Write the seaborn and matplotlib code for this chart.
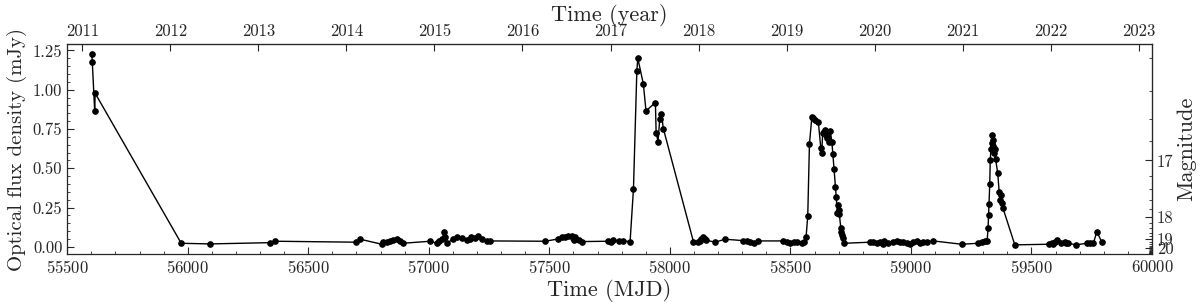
import numpy as np
import pandas as pd
import matplotlib
matplotlib.use("Agg")
import matplotlib.pyplot as plt
import seaborn as sns
from matplotlib.ticker import AutoMinorLocator, MultipleLocator, FixedLocator, FormatStrFormatter

# Light curve values
mjd = [55602, 55604, 55614, 55616, 55973, 56093, 56342, 56364, 56697, 56715,
       56805, 56808, 56826, 56840, 56853, 56867, 56881, 56891,
       57006, 57033, 57044, 57054, 57064, 57066, 57075, 57102, 57116, 57137,
       57158, 57171, 57175, 57192, 57206, 57220, 57241, 57252,
       57483, 57538, 57552, 57565, 57579, 57593, 57600, 57604, 57607, 57621, 57635,
       57745, 57755, 57766, 57787, 57807, 57835,
       57849, 57863, 57867, 57890, 57901, 57940, 57943, 57951, 57958, 57965, 57973,
       58098, 58118, 58123, 58128, 58139, 58145, 58149, 58188, 58229,
       58305, 58319, 58333, 58347, 58365, 58471, 58485, 58499, 58513, 58527, 58547, 58557,
       58565, 58572, 58579, 58589, 58595, 58602, 58616, 58626, 58630, 58634, 58639,
       58643, 58647, 58651, 58658, 58662, 58665, 58672, 58676, 58681, 58687, 58690,
       58695, 58697, 58701, 58703, 58709, 58710, 58713, 58717, 58722,
       58831, 58844, 58858, 58872, 58883, 58888, 58906, 58927, 58941, 58955, 58966,
       58982, 58996, 59010, 59024, 59038, 59051, 59065, 59093, 59210, 59279, 59293,
       59307, 59316,
       59320, 59322, 59324, 59327, 59329, 59332, 59335, 59337, 59339, 59341, 59344,
       59347, 59351, 59360, 59366, 59369, 59372, 59376, 59381,
       59431, 59574, 59584, 59590, 59598, 59605, 59622, 59639, 59645, 59653, 59685,
       59729, 59743, 59757, 59771, 59792]
flux = [1.225, 1.178, 0.867, 0.977, 0.023, 0.019, 0.027, 0.036, 0.030, 0.049,
        0.017, 0.030, 0.030, 0.036, 0.044, 0.051, 0.040, 0.023,
        0.036, 0.023, 0.036, 0.049, 0.093, 0.062, 0.023, 0.051, 0.066, 0.055,
        0.041, 0.051, 0.062, 0.055, 0.070, 0.049, 0.038, 0.038,
        0.036, 0.051, 0.062, 0.066, 0.070, 0.070, 0.055, 0.044, 0.066, 0.044, 0.034,
        0.036, 0.034, 0.044, 0.036, 0.038, 0.034,
        0.369, 1.119, 1.200, 1.036, 0.865, 0.918, 0.727, 0.670, 0.814, 0.848, 0.752,
        0.032, 0.032, 0.040, 0.049, 0.066, 0.050, 0.043, 0.030, 0.049,
        0.040, 0.038, 0.034, 0.027, 0.038, 0.038, 0.030, 0.023, 0.030, 0.032, 0.023, 0.030,
        0.062, 0.197, 0.655, 0.825, 0.818, 0.807, 0.793, 0.631, 0.596, 0.727, 0.733,
        0.744, 0.712, 0.691, 0.733, 0.670, 0.740, 0.670, 0.589, 0.496, 0.380, 0.320,
        0.214, 0.267, 0.235, 0.208, 0.123, 0.097, 0.076, 0.055, 0.023,
        0.030, 0.030, 0.023, 0.032, 0.019, 0.036, 0.023, 0.030, 0.036, 0.030, 0.032,
        0.023, 0.019, 0.030, 0.036, 0.023, 0.030, 0.032, 0.038, 0.017, 0.023, 0.030,
        0.036, 0.036,
        0.12, 0.20, 0.27, 0.40, 0.55, 0.62, 0.66, 0.71, 0.68, 0.64, 0.60,
        0.62, 0.56, 0.47, 0.35, 0.30, 0.33, 0.28, 0.25,
        0.013, 0.017, 0.023, 0.020, 0.030, 0.044, 0.023, 0.030, 0.028, 0.023, 0.013,
        0.023, 0.023, 0.023, 0.097, 0.030]

mag_ticks = [17, 18, 19, 20]
ZP = 16.4  # AB zero point for flux in mJy

df = pd.DataFrame({"MJD": mjd, "flux": flux})

sns.set_style("ticks")
plt.rcParams["font.family"] = ["cmr10", "DejaVu Serif"]
plt.rcParams["mathtext.fontset"] = "cm"
plt.rcParams["axes.formatter.use_mathtext"] = True
plt.rcParams["xtick.direction"] = "in"
plt.rcParams["ytick.direction"] = "in"

fig = plt.figure(figsize=(12, 3.06), dpi=100)
ax = fig.add_axes([0.056, 0.17, 0.904, 0.686])
sns.lineplot(data=df, x="MJD", y="flux", ax=ax, color="k", marker="o",
             markersize=4, markeredgecolor="k", linewidth=1,
             estimator=None, sort=False)

ax.set_xlim(55500, 60000)
ax.set_ylim(-0.045, 1.29)
ax.xaxis.set_major_locator(MultipleLocator(500))
ax.xaxis.set_minor_locator(AutoMinorLocator(5))
ax.yaxis.set_major_locator(MultipleLocator(0.25))
ax.yaxis.set_minor_locator(AutoMinorLocator(5))
ax.yaxis.set_major_formatter(FormatStrFormatter("%.2f"))
ax.tick_params(which="major", length=5, labelsize=12)
ax.tick_params(which="minor", length=2.5)
ax.set_xlabel("Time (MJD)", fontsize=16, labelpad=2)
ax.set_ylabel("Optical flux density (mJy)", fontsize=15, labelpad=4)
for s in ax.spines.values():
    s.set_linewidth(0.9)


def mjd2yr(x):
    return 2000.0 + (np.asarray(x, dtype=float) - 51544.5) / 365.25


def yr2mjd(y):
    return 51544.5 + (np.asarray(y, dtype=float) - 2000.0) * 365.25


def flux2mag(f):
    f = np.clip(np.asarray(f, dtype=float), 1e-3, None)
    return ZP - 2.5 * np.log10(f)


def mag2flux(m):
    return 10 ** ((ZP - np.asarray(m, dtype=float)) / 2.5)


top = ax.secondary_xaxis("top", functions=(mjd2yr, yr2mjd))
top.xaxis.set_major_locator(MultipleLocator(1))
top.xaxis.set_major_formatter(FormatStrFormatter("%d"))
top.tick_params(which="major", direction="in", length=5, labelsize=12)
top.set_xlabel("Time (year)", fontsize=16, labelpad=2)

right = ax.secondary_yaxis("right", functions=(flux2mag, mag2flux))
right.yaxis.set_major_locator(FixedLocator(mag_ticks))
right.yaxis.set_minor_locator(MultipleLocator(0.2))
right.yaxis.set_major_formatter(FormatStrFormatter("%d"))
right.tick_params(which="major", direction="in", length=5, labelsize=12)
right.tick_params(which="minor", direction="in", length=2.5)
right.set_ylabel("Magnitude", fontsize=16, labelpad=2)

fig.savefig("out.png", dpi=100)
